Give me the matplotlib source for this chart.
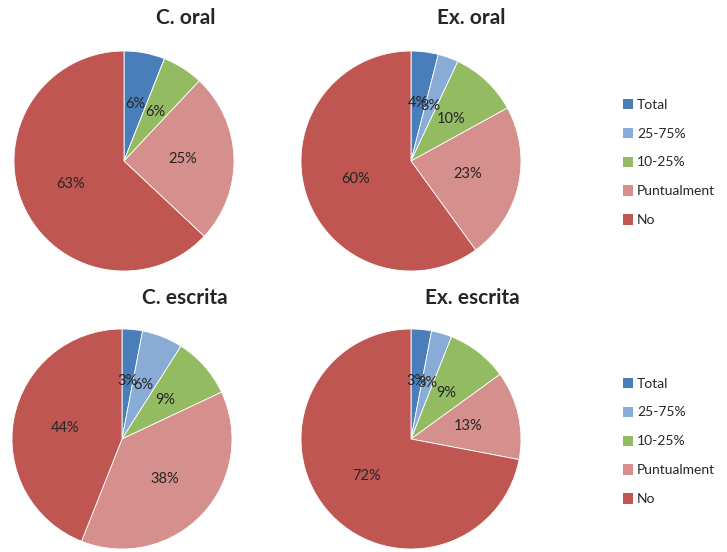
import matplotlib
matplotlib.use("Agg")
import matplotlib.pyplot as plt
import numpy as np
from matplotlib.patches import Patch

categories = ["Total", "25-75%", "10-25%", "Puntualment", "No"]
colors = ["#4a7ebb", "#88acd6", "#93bb62", "#d58f8d", "#bf5652"]

titles = ["C. oral", "Ex. oral", "C. escrita", "Ex. escrita"]
c_oral = [6, 0, 6, 25, 63]
ex_oral = [4, 3, 10, 23, 60]
c_escrita = [3, 6, 9, 38, 44]
ex_escrita = [3, 3, 9, 13, 72]
series = [c_oral, ex_oral, c_escrita, ex_escrita]

plt.rcParams['font.family'] = ['Lato', 'DejaVu Sans']

W, H = 727, 552
fig = plt.figure(figsize=(W / 100, H / 100), dpi=100)

# pie centres (px) and title centres (px)
centres = [(124, 161), (411, 161), (122, 439), (411, 439)]
title_pos = [(186, 18), (471, 18), (185, 298), (472, 298)]
R = 110

for vals, title, (cx, cy), (tx, ty) in zip(series, titles, centres, title_pos):
    ax = fig.add_axes([(cx - R) / W, 1 - (cy + R) / H, 2 * R / W, 2 * R / H])
    wedges, _ = ax.pie(vals, colors=colors, startangle=90, counterclock=False,
                       radius=1, wedgeprops=dict(linewidth=0.6, edgecolor="white"))
    # labels in the middle of each slice, zero slices left unlabelled
    for w, v in zip(wedges, vals):
        if v == 0:
            continue
        ang = np.deg2rad((w.theta1 + w.theta2) / 2)
        ax.text(0.53 * np.cos(ang), 0.53 * np.sin(ang), f"{v}%",
                ha="center", va="center", fontsize=10.5, color="#262626")
    ax.set_xlim(-1, 1)
    ax.set_ylim(-1, 1)
    ax.set_aspect("equal")
    ax.axis("off")
    fig.text(tx / W, 1 - ty / H, title, ha="center", va="center",
             fontsize=15, fontweight="bold", color="#262626")

handles = [Patch(facecolor=c, edgecolor="none") for c in colors]
for top in (93, 372):
    fig.legend(handles, categories, loc="upper left",
               bbox_to_anchor=(617 / W, 1 - top / H), frameon=False,
               fontsize=10, handlelength=0.75, handleheight=0.75,
               handletextpad=0.3, labelspacing=1.22, borderaxespad=0,
               labelcolor="#262626")

fig.savefig("out.png", dpi=100)
